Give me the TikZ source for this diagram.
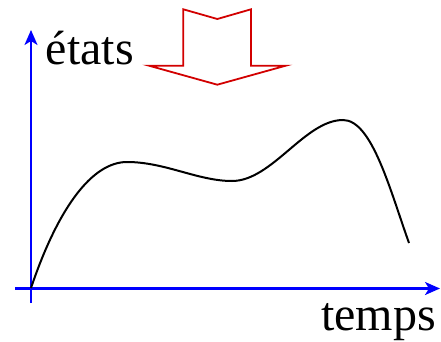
\documentclass[tikz,border=0pt]{standalone}
\usepackage{fontspec}
\setmainfont{Liberation Serif}
\usetikzlibrary{arrows.meta}
\definecolor{arrowred}{RGB}{210,0,0}
\begin{document}
\begin{tikzpicture}[x=1pt,y=-1pt,
  axis/.style={draw=blue,line width=2.2pt,-{Stealth[length=15pt,width=13pt,inset=4pt]}},
  curve/.style={draw=black,line width=2pt},
  bigarrow/.style={draw=arrowred,line width=1.8pt,line join=miter,fill=white},
  lbl/.style={inner sep=0pt,font=\fontsize{48}{52}\selectfont}]
\useasboundingbox (0,0) rectangle (441,342);
% axes
\coordinate (vb) at (31,303);
\coordinate (vt) at (31,30);
\coordinate (hl) at (15,288.5);
\coordinate (hr) at (440,288.5);
\draw[axis] (vb) -- (vt);
\draw[axis] (hl) -- (hr);
% labels
\node[lbl,anchor=base west] (etats) at (45.5,65) {états};
\node[lbl,anchor=base east] (temps) at (436,330) {temps};
% curve
\coordinate (p0) at (31,288);
\coordinate (p1) at (127,162);
\coordinate (p2) at (232,181);
\coordinate (p3) at (343,120);
\coordinate (p4) at (409,243);
\draw[curve] (p0) .. controls (58,208) and (92,162) .. (p1)
  .. controls (165,162) and (198,181) .. (p2)
  .. controls (272,181) and (305,120) .. (p3)
  .. controls (372,120) and (390,190) .. (p4);
% big hollow arrow
\draw[bigarrow] (183.3,9.3) -- (217.3,19) -- (251,9.3) -- (251,65.7) -- (285.7,65.7)
  -- (217.3,84.7) -- (149,65.7) -- (183.3,65.7) -- cycle;
\end{tikzpicture}
\end{document}
